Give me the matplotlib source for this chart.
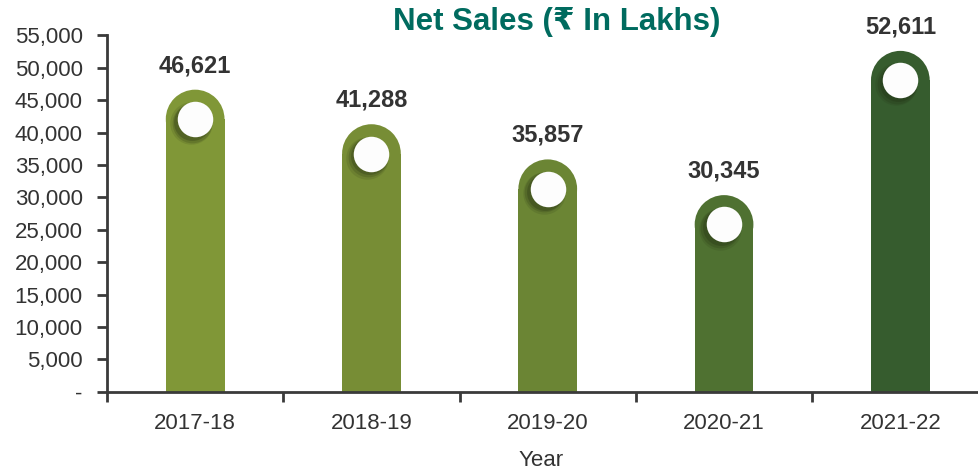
import matplotlib
matplotlib.use("Agg")
import matplotlib.pyplot as plt
import matplotlib.transforms as mtransforms
from matplotlib.ticker import FuncFormatter, FixedLocator
import numpy as np

years = ["2017-18", "2018-19", "2019-20", "2020-21", "2021-22"]
net_sales = [46621, 41288, 35857, 30345, 52611]
bar_colors = ["#809737", "#778d35", "#6b8534", "#4f7131", "#365c2e"]
title_text = "Net Sales (\u20b9 In Lakhs)"
x_label = "Year"
y_ticks = list(range(0, 55001, 5000))

plt.rcParams['font.family'] = ['Liberation Sans', 'DejaVu Sans', 'Noto Sans']

W, H, DPI = 979, 470, 100
fig = plt.figure(figsize=(W / DPI, H / DPI), dpi=DPI)
ax_left, ax_right = 107 / W, 988.5 / W
ax_bottom, ax_top = (H - 391.7) / H, (H - 35.4) / H
ax = fig.add_axes([ax_left, ax_bottom, ax_right - ax_left, ax_top - ax_bottom])
ax.set_xlim(-0.5, len(years) - 0.5)
ax.set_ylim(0, 55000)

x = np.arange(len(years))
bar_w = 0.333

# conversions pixels <-> data
px_per_xunit = (ax_right - ax_left) * W / len(years)
px_per_yunit = (ax_top - ax_bottom) * H / 55000
r_px = bar_w * px_per_xunit / 2
r_y = r_px / px_per_yunit
diam_pt = 2 * r_px * 72 / DPI

vals = np.array(net_sales, dtype=float)
ax.bar(x, vals - r_y, width=bar_w, color=bar_colors, linewidth=0, zorder=2)
ax.scatter(x, vals - r_y, s=diam_pt ** 2, c=bar_colors, linewidths=0, zorder=2)

# soft shadow + white knob
white_d_pt = 35.5 * 72 / DPI
for dx, a, grow in [(-3.0, 0.12, 5.0), (-2.6, 0.18, 3.0), (-2.0, 0.25, 1.0)]:
    tr = mtransforms.offset_copy(ax.transData, fig=fig, x=dx, y=dx, units='points')
    ax.scatter(x, vals - r_y, s=(white_d_pt + grow) ** 2, c="#1f2a10", alpha=a,
               linewidths=0, zorder=3, transform=tr)
ax.scatter(x, vals - r_y, s=white_d_pt ** 2, c="#fdfdfd", linewidths=0, zorder=4)

for xi, v in zip(x, net_sales):
    ax.annotate(f"{v:,}", (xi, v), xytext=(0, 9), textcoords="offset points",
                ha="center", va="bottom", fontsize=17, fontweight="bold", color="#333333")

# axes styling
for s in ["top", "right"]:
    ax.spines[s].set_visible(False)
for s in ["left", "bottom"]:
    ax.spines[s].set_color("#3a3a3a")
    ax.spines[s].set_linewidth(2)

ax.yaxis.set_major_locator(FixedLocator(y_ticks))
ax.yaxis.set_major_formatter(FuncFormatter(lambda v, p: "-" if v == 0 else f"{int(v):,}"))
ax.tick_params(axis="y", length=7.5, width=2, color="#3a3a3a", labelsize=16,
               labelcolor="#333333", pad=10)

ax.set_xticks(x)
ax.set_xticklabels(years)
ax.set_xticks(np.arange(-0.5, len(years)), minor=True)
ax.tick_params(axis="x", which="major", length=0, labelsize=16, labelcolor="#333333", pad=15)
ax.tick_params(axis="x", which="minor", length=7.5, width=2, color="#3a3a3a")
ax.set_xlabel(x_label, fontsize=16, color="#333333")
ax.xaxis.set_label_coords((541 / W - ax_left) / (ax_right - ax_left), -0.165)

fig.text(557 / W, 1 - 22 / H, title_text, ha="center", va="center",
         fontsize=22.5, fontweight="bold", color="#006b5f")

fig.savefig("out.png", dpi=DPI)
